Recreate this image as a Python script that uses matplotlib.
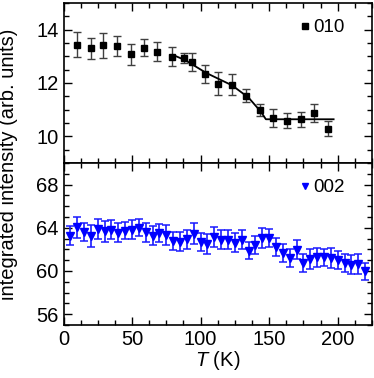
import matplotlib
matplotlib.use("Agg")
import matplotlib.pyplot as plt
from matplotlib.ticker import MultipleLocator

plt.rcParams['font.family'] = ['Liberation Sans', 'DejaVu Sans']
plt.rcParams['mathtext.fontset'] = 'custom'
plt.rcParams['mathtext.it'] = 'Liberation Sans:italic'
plt.rcParams['mathtext.rm'] = 'Liberation Sans'

# ---- data: (010) reflection ----
T_010 = [10, 20, 29, 39, 49, 59, 68, 79, 88, 94, 103, 113, 123, 133, 143, 153, 163, 173, 183, 193]
I_010 = [13.44, 13.30, 13.41, 13.39, 13.08, 13.33, 13.18, 12.99, 12.94, 12.79,
         12.34, 11.98, 11.93, 11.53, 10.98, 10.68, 10.59, 10.64, 10.88, 10.29]
E_010 = [0.46, 0.40, 0.46, 0.39, 0.39, 0.33, 0.36, 0.36, 0.19, 0.34,
         0.35, 0.42, 0.39, 0.25, 0.22, 0.33, 0.28, 0.29, 0.34, 0.29]

# fit curve for (010)
T_fit = [80, 89, 104, 123, 135, 144, 147.6, 197]
I_fit = [13.05, 12.85, 12.38, 11.91, 11.45, 10.92, 10.64, 10.64]

# ---- data: (002) reflection ----
T_002 = [5, 10, 15, 20, 25, 30, 35, 40, 45, 50, 55, 60, 65, 70, 75, 80, 85, 90, 95, 100,
         105, 110, 115, 120, 125, 130, 135, 140, 145, 150, 155, 160, 165, 170, 175, 180,
         185, 190, 195, 200, 205, 210, 215, 220]
I_002 = [63.26, 64.03, 63.62, 63.25, 63.88, 63.69, 63.82, 63.55, 63.74, 63.80,
         64.00, 63.57, 63.28, 63.52, 63.32, 62.77, 62.72, 62.95, 63.43, 62.69,
         62.46, 63.15, 62.88, 62.91, 62.62, 62.89, 61.88, 62.38, 63.06, 63.05,
         62.23, 61.65, 61.18, 61.97, 60.75, 61.08, 61.28, 61.26, 61.23, 61.00,
         60.75, 60.57, 60.65, 59.97]
E_002 = [0.89, 0.98, 0.85, 1.00, 0.89, 0.98, 0.89, 0.85, 0.82, 0.88,
         0.77, 0.89, 0.88, 0.85, 0.92, 0.83, 0.88, 0.89, 0.97, 0.85,
         0.92, 0.91, 0.88, 0.85, 0.86, 0.89, 0.80, 0.85, 0.94, 0.80,
         0.85, 0.82, 0.82, 0.89, 0.85, 0.92, 0.88, 0.80, 0.92, 0.85,
         0.85, 0.88, 0.89, 0.80]

label_010 = "010"
label_002 = "002"
xlabel = "$T$ (K)"
ylabel = "integrated intensity (arb. units)"

FS = 14.5
W, H = 374, 378
fig = plt.figure(figsize=(W / 100, H / 100), dpi=100)
left, right = 63.5 / W, 372 / W
top_y, mid_y, bot_y = 3 / H, 163 / H, 325 / H
ax1 = fig.add_axes([left, 1 - mid_y, right - left, mid_y - top_y])
ax2 = fig.add_axes([left, 1 - bot_y, right - left, bot_y - mid_y], sharex=ax1)

# top panel
ax1.errorbar(T_010, I_010, yerr=E_010, fmt='none', ecolor='0.25', elinewidth=1.0,
             capsize=3, capthick=1.0)
ax1.plot(T_fit, I_fit, color='black', lw=1.3, zorder=3)
ax1.plot(T_010, I_010, 's', color='black', ms=5, zorder=4, label=label_010)

# bottom panel
ax2.errorbar(T_002, I_002, yerr=E_002, fmt='none', ecolor='#1a1aff', elinewidth=1.2,
             capsize=3, capthick=1.1)
ax2.plot(T_002, I_002, 'v', color='#0000ff', ms=5.5, zorder=4, label=label_002)

ax1.set_xlim(0, 225)
ax1.set_ylim(9, 15)
ax2.set_ylim(55, 70)

for ax in (ax1, ax2):
    ax.xaxis.set_major_locator(MultipleLocator(50))
    ax.xaxis.set_minor_locator(MultipleLocator(12.5))
    ax.tick_params(which='both', direction='in', top=True, right=True,
                   labelsize=FS, width=1.0)
    ax.tick_params(which='major', length=6)
    ax.tick_params(which='minor', length=3.5)
    for s in ax.spines.values():
        s.set_linewidth(1.2)
    ax.legend(loc='upper right', frameon=False, fontsize=13.5, handlelength=0.5,
              handletextpad=0.2, borderpad=0.2, borderaxespad=0.5,
              bbox_to_anchor=(0.955, 0.98), markerscale=0.8)

ax1.yaxis.set_major_locator(MultipleLocator(2))
ax1.yaxis.set_minor_locator(MultipleLocator(0.5))
ax2.yaxis.set_major_locator(MultipleLocator(4))
ax2.yaxis.set_minor_locator(MultipleLocator(1))
ax2.set_yticks([56, 60, 64, 68])
ax1.set_yticks([10, 12, 14])
ax1.tick_params(labelbottom=False)

ax2.set_xlabel(xlabel, fontsize=FS, labelpad=0)
fig.text(0.024, (1 - top_y + 1 - bot_y) / 2, ylabel, rotation=90, fontsize=FS,
         ha='center', va='center')

fig.savefig("out.png", dpi=100)
